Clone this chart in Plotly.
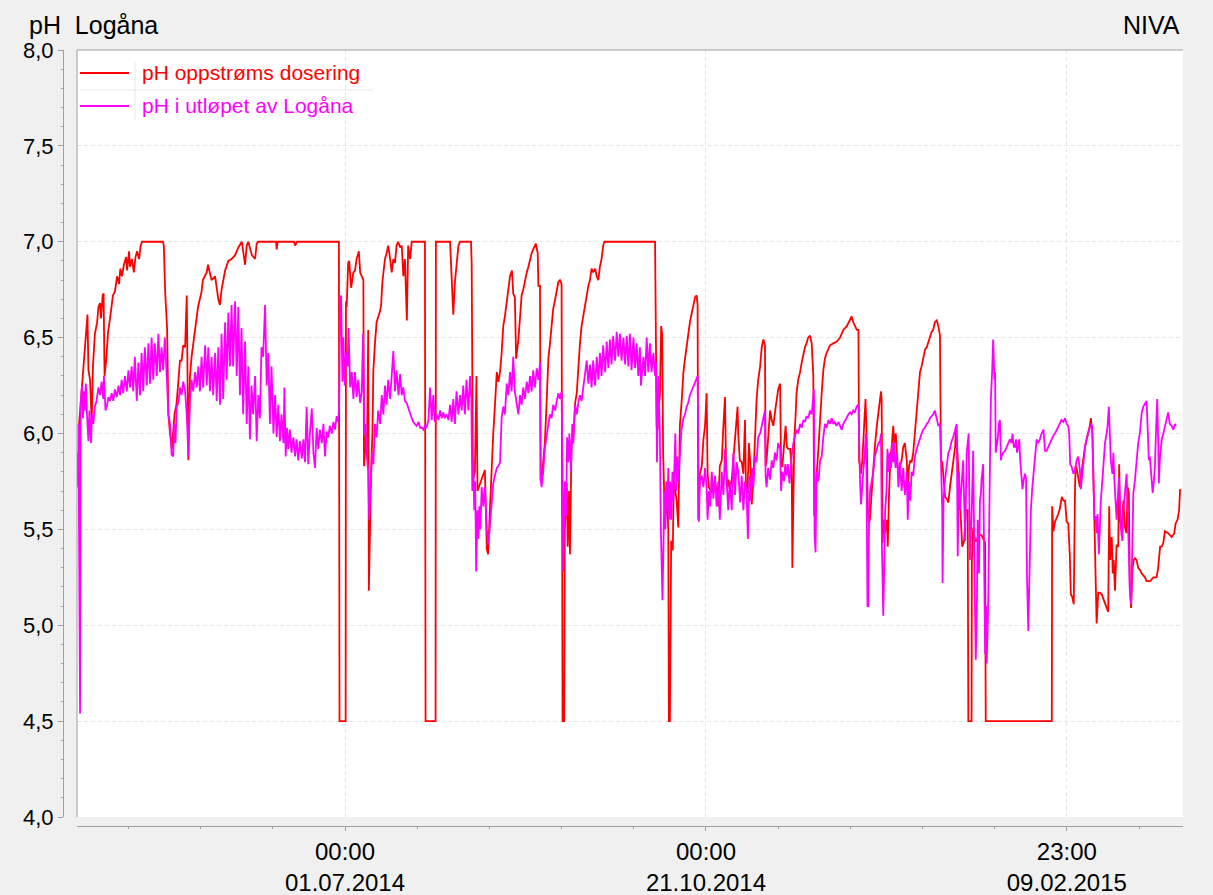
import numpy as np
import pandas as pd
import plotly.graph_objects as go

# pH readings: (days relative to 01.07.2014 00:00, pH)
red_readings = [
    (-83.0, 5.90), (-82.8, 5.72), (-82.5, 6.05), (-81.9, 6.18), (-81.3, 6.30), (-80.7, 6.42), (-79.9, 6.62),
    (-79.6, 6.33), (-79.1, 6.28), (-78.6, 6.06), (-78.2, 6.35), (-77.6, 6.52), (-76.9, 6.58), (-76.5, 6.66),
    (-76.0, 6.68), (-75.7, 6.60), (-75.2, 6.72), (-74.9, 6.73), (-74.6, 6.30), (-74.1, 6.38), (-73.5, 6.53),
    (-72.9, 6.60), (-72.4, 6.66), (-72.0, 6.72), (-71.4, 6.74), (-70.7, 6.82), (-70.1, 6.78), (-69.7, 6.86),
    (-69.2, 6.82), (-68.6, 6.88), (-67.9, 6.92), (-67.6, 6.85), (-67.0, 6.95), (-66.7, 6.87), (-66.1, 6.91),
    (-65.5, 6.84), (-65.0, 6.92), (-64.5, 6.95), (-63.9, 6.91), (-63.4, 6.98), (-63.0, 7.00),
    (-56.5, 7.00), (-56.2, 6.98), (-55.8, 6.74), (-55.2, 6.55), (-54.8, 6.10), (-54.3, 6.00), (-53.7, 5.92),
    (-52.9, 6.10), (-52.3, 6.15), (-51.8, 6.25), (-51.2, 6.38), (-50.7, 6.38), (-50.2, 6.46), (-49.6, 6.45),
    (-49.1, 6.72), (-48.6, 5.86), (-48.1, 6.30), (-47.6, 6.40), (-46.8, 6.50), (-46.5, 6.55), (-45.6, 6.66),
    (-44.5, 6.74), (-44.1, 6.80), (-42.9, 6.84), (-42.5, 6.88), (-41.4, 6.80), (-40.3, 6.82), (-39.3, 6.70),
    (-38.8, 6.67), (-38.3, 6.75), (-37.2, 6.85), (-36.2, 6.90), (-35.2, 6.91), (-34.1, 6.93), (-33.1, 6.97),
    (-32.0, 7.00), (-31.0, 6.88), (-30.5, 6.98), (-30.0, 7.00), (-28.9, 6.93), (-27.9, 6.91), (-27.4, 6.99),
    (-27.0, 7.00), (-21.4, 7.00), (-21.2, 6.96), (-20.9, 7.00), (-15.8, 7.00), (-15.5, 6.98), (-14.9, 7.00),
    (-1.9, 7.00), (-1.7, 4.50), (0.2, 4.50), (0.3, 6.69), (0.5, 6.66), (1.0, 6.89), (1.3, 6.90), (1.9, 6.76),
    (2.3, 6.80), (2.6, 6.84), (3.1, 6.85), (3.6, 6.91), (4.3, 6.95), (4.7, 6.84), (5.2, 6.82), (5.7, 6.80),
    (5.9, 5.83), (6.2, 5.90), (6.5, 6.00), (6.8, 5.87), (7.2, 6.54), (7.4, 5.18), (7.8, 5.60), (8.1, 5.80),
    (8.5, 6.00), (8.8, 6.33), (9.3, 6.47), (9.8, 6.58), (10.9, 6.64), (11.2, 6.67), (11.6, 6.79), (12.0, 6.87),
    (12.4, 6.91), (12.9, 6.94), (13.4, 6.98), (14.0, 6.91), (14.5, 6.84), (15.0, 6.91), (15.5, 6.89),
    (16.0, 6.98), (16.5, 7.00), (17.1, 6.97), (17.6, 6.98), (18.1, 6.82), (18.6, 6.91), (19.2, 6.59),
    (19.6, 6.98), (20.2, 6.91), (20.7, 7.00), (24.8, 7.00), (25.0, 4.50), (28.1, 4.50), (28.2, 7.00),
    (32.6, 7.00), (33.1, 6.82), (33.6, 6.62), (34.1, 6.79), (34.7, 6.91), (35.2, 6.98), (35.7, 7.00),
    (39.1, 7.00), (39.3, 6.89), (39.7, 5.76), (40.3, 5.80), (40.8, 6.30), (41.1, 5.70), (41.9, 5.74),
    (42.4, 5.77), (42.9, 5.79), (43.4, 5.81), (44.0, 5.40), (44.4, 5.37), (45.0, 5.62), (45.5, 5.86),
    (46.0, 6.00), (46.5, 6.14), (47.1, 6.32), (47.6, 6.27), (48.1, 6.32), (48.6, 6.42), (49.1, 6.56),
    (49.6, 6.61), (50.2, 6.70), (50.7, 6.77), (51.2, 6.82), (51.8, 6.85), (52.2, 6.73), (52.7, 6.71),
    (53.1, 6.39), (53.8, 6.49), (54.3, 6.63), (54.8, 6.72), (55.3, 6.75), (55.8, 6.80), (56.4, 6.84),
    (56.9, 6.87), (57.4, 6.91), (57.9, 6.94), (58.4, 6.96), (59.2, 6.99), (59.8, 6.94), (60.0, 6.77),
    (60.5, 6.77), (60.7, 5.76), (61.0, 5.76), (61.5, 5.87), (62.0, 5.95), (62.6, 6.18), (63.1, 6.39),
    (63.6, 6.47), (64.1, 6.58), (64.6, 6.65), (65.2, 6.70), (65.7, 6.75), (66.2, 6.79), (66.7, 6.80),
    (67.2, 6.78), (67.5, 4.50), (68.0, 4.50), (68.2, 5.50), (68.8, 5.74), (69.1, 5.41), (69.5, 5.70),
    (69.8, 5.37), (70.3, 5.97), (70.8, 5.95), (71.4, 6.16), (71.9, 6.21), (72.4, 6.35), (72.9, 6.47),
    (73.4, 6.56), (73.9, 6.61), (74.5, 6.66), (75.0, 6.73), (75.5, 6.77), (76.0, 6.80), (76.5, 6.86),
    (77.0, 6.84), (77.6, 6.86), (78.1, 6.82), (78.6, 6.80), (79.1, 6.87), (79.6, 6.91), (80.1, 6.98),
    (80.5, 7.00), (96.2, 7.00), (96.3, 6.73), (96.7, 6.04), (97.0, 6.02), (97.2, 6.11), (97.7, 6.20),
    (98.1, 6.56), (98.4, 6.52), (98.7, 5.90), (99.3, 5.52), (99.8, 5.72), (100.3, 5.50), (100.5, 4.50),
    (100.8, 4.50), (100.9, 4.72), (101.2, 5.44), (101.7, 5.39), (102.0, 5.76), (102.4, 5.71), (102.9, 5.65),
    (103.4, 5.51), (103.9, 6.04), (104.5, 6.18), (105.0, 6.32), (105.5, 6.39), (106.0, 6.45), (106.5, 6.53),
    (107.0, 6.58), (107.6, 6.63), (108.1, 6.68), (108.6, 6.71), (109.1, 6.72), (109.4, 6.67), (109.6, 5.55),
    (110.1, 5.79), (110.7, 5.83), (111.2, 5.97), (111.7, 6.04), (112.2, 6.21), (112.5, 5.79), (112.9, 5.72),
    (113.8, 5.69), (114.3, 5.72), (114.8, 5.76), (115.3, 5.69), (115.8, 5.62), (116.3, 5.83), (116.9, 5.86),
    (117.4, 6.04), (117.9, 6.19), (118.2, 5.86), (118.6, 5.72), (118.9, 5.76), (119.4, 5.71), (120.0, 5.76),
    (120.5, 5.86), (121.0, 5.97), (121.8, 6.14), (122.0, 6.00), (122.5, 5.86), (123.1, 5.85), (123.6, 5.79),
    (124.1, 6.07), (124.4, 5.72), (124.9, 5.69), (125.3, 5.95), (125.7, 5.86), (126.2, 5.63), (126.7, 5.76),
    (127.2, 6.00), (127.7, 6.18), (128.2, 6.28), (128.8, 6.35), (129.3, 6.45), (129.8, 6.49), (130.3, 6.46),
    (130.5, 5.83), (130.8, 5.86), (131.3, 5.97), (131.9, 6.12), (132.4, 6.07), (132.9, 6.04), (133.4, 6.11),
    (133.9, 6.18), (134.4, 6.23), (135.0, 6.26), (135.3, 5.83), (135.7, 5.83), (136.3, 5.97), (136.7, 6.04),
    (137.1, 5.93), (137.5, 5.92), (138.1, 5.92), (138.6, 5.83), (138.8, 5.30), (139.1, 5.62), (139.4, 5.97),
    (139.8, 6.09), (140.1, 6.21), (140.6, 6.28), (141.2, 6.32), (141.7, 6.37), (142.2, 6.42), (142.7, 6.45),
    (143.2, 6.47), (143.7, 6.50), (144.3, 6.51), (144.8, 6.47), (145.3, 6.30), (145.6, 5.57), (146.0, 5.59),
    (146.3, 5.78), (146.8, 5.90), (147.4, 6.04), (147.9, 6.21), (148.4, 6.33), (148.9, 6.39), (149.4, 6.42),
    (149.9, 6.44), (150.5, 6.46), (151.5, 6.47), (152.6, 6.48), (153.6, 6.50), (154.6, 6.54), (155.7, 6.56),
    (156.7, 6.60), (157.2, 6.61), (157.7, 6.58), (158.8, 6.54), (159.3, 6.54), (159.5, 5.86), (159.8, 5.83),
    (160.1, 5.79), (160.5, 5.86), (160.8, 5.97), (161.1, 6.11), (161.5, 6.18), (161.9, 5.95), (162.2, 5.60),
    (162.6, 5.53), (162.9, 5.56), (163.4, 5.69), (163.9, 5.83), (164.4, 5.93), (165.0, 6.04), (165.5, 6.11),
    (166.0, 6.21), (166.3, 6.22), (166.5, 6.18), (166.8, 5.43), (167.1, 5.55), (167.5, 5.48), (168.1, 5.55),
    (168.4, 5.41), (168.8, 5.69), (169.2, 5.86), (169.6, 5.93), (170.1, 6.04), (170.4, 5.95), (170.9, 6.00),
    (171.3, 5.86), (171.7, 5.79), (172.2, 5.83), (172.7, 5.86), (173.2, 5.93), (173.7, 5.95), (174.3, 5.86),
    (174.6, 5.72), (175.0, 5.83), (175.4, 5.86), (175.8, 5.85), (176.3, 5.90), (176.8, 6.00), (177.4, 6.11),
    (177.9, 6.21), (178.4, 6.32), (178.9, 6.35), (179.4, 6.40), (180.0, 6.44), (180.5, 6.45), (181.0, 6.48),
    (181.5, 6.51), (182.0, 6.53), (182.5, 6.54), (183.0, 6.58), (183.6, 6.59), (184.1, 6.56), (184.6, 6.51),
    (184.9, 5.86), (185.3, 5.85), (185.7, 5.78), (186.2, 5.67), (186.7, 5.66), (187.2, 5.64), (187.7, 5.72),
    (188.2, 5.79), (188.7, 5.86), (189.3, 5.93), (189.6, 6.04), (190.1, 5.86), (190.3, 5.83), (190.5, 5.76),
    (190.8, 5.62), (191.5, 5.41), (192.1, 5.44), (192.6, 5.60), (193.2, 5.60), (193.4, 4.50), (194.4, 4.50),
    (194.5, 5.34), (194.9, 5.51), (195.5, 5.44), (196.0, 5.44), (196.5, 5.47), (197.5, 5.47), (198.6, 5.43),
    (198.8, 4.50), (219.3, 4.50), (219.4, 5.62), (219.8, 5.49), (220.3, 5.54), (220.8, 5.56), (221.3, 5.58),
    (221.8, 5.61), (222.4, 5.67), (222.9, 5.65), (223.4, 5.65), (223.9, 5.54), (224.4, 5.53), (224.9, 5.36),
    (225.2, 5.16), (225.6, 5.15), (226.1, 5.11), (226.5, 5.72), (226.7, 5.83), (227.1, 5.81), (227.5, 5.76),
    (228.0, 5.72), (228.6, 5.81), (229.1, 5.88), (229.6, 5.93), (230.1, 5.97), (230.6, 6.00), (231.1, 6.04),
    (231.4, 6.08), (231.9, 6.00), (232.3, 5.71), (232.7, 5.34), (233.2, 5.01), (233.7, 5.17), (234.2, 5.17),
    (234.8, 5.16), (235.3, 5.14), (235.8, 5.11), (236.8, 5.07), (237.1, 5.62), (237.4, 5.34), (237.9, 5.46),
    (238.2, 5.27), (238.5, 5.34), (238.9, 5.18), (239.4, 5.42), (239.9, 5.41), (240.2, 5.84), (240.5, 5.55),
    (241.0, 5.51), (241.5, 5.65), (242.0, 5.51), (242.5, 5.48), (242.8, 5.72), (243.2, 5.69), (243.5, 5.20),
    (243.9, 5.09), (244.3, 5.29), (244.7, 5.34), (245.1, 5.35), (245.6, 5.34), (246.1, 5.30), (246.6, 5.29),
    (247.2, 5.27), (247.7, 5.26), (248.2, 5.25), (248.7, 5.23), (249.8, 5.23), (250.3, 5.24), (250.8, 5.25),
    (251.8, 5.25), (252.3, 5.30), (252.9, 5.41), (253.4, 5.41), (253.9, 5.43), (254.4, 5.49), (255.4, 5.48),
    (256.5, 5.46), (257.3, 5.48), (257.7, 5.53), (258.3, 5.55), (258.8, 5.60), (259.1, 5.71),
]

magenta_readings = [
    (-82.7, 6.05), (-82.2, 4.54), (-82.0, 6.16), (-81.6, 6.25), (-81.3, 6.08), (-81.0, 6.22), (-80.7, 6.12),
    (-80.4, 6.26), (-80.0, 6.08), (-79.6, 5.96), (-79.3, 6.12), (-79.0, 6.00), (-78.8, 5.95), (-78.5, 6.10),
    (-78.1, 6.05), (-77.6, 6.14), (-77.1, 6.17), (-76.5, 6.24), (-76.0, 6.20), (-75.5, 6.27), (-75.0, 6.18),
    (-74.8, 6.30), (-74.3, 6.12), (-73.8, 6.15), (-73.4, 6.19), (-72.9, 6.17), (-72.4, 6.21), (-71.9, 6.17),
    (-71.4, 6.23), (-70.8, 6.19), (-70.3, 6.25), (-69.8, 6.20), (-69.3, 6.28), (-68.8, 6.21), (-68.3, 6.30),
    (-67.7, 6.22), (-67.2, 6.33), (-66.7, 6.24), (-66.2, 6.35), (-65.7, 6.22), (-65.2, 6.40), (-64.6, 6.17),
    (-64.1, 6.37), (-63.6, 6.20), (-63.1, 6.42), (-62.6, 6.22), (-62.1, 6.45), (-61.5, 6.25), (-61.0, 6.47),
    (-60.5, 6.26), (-60.0, 6.50), (-59.5, 6.28), (-59.0, 6.47), (-58.4, 6.30), (-57.9, 6.52), (-57.4, 6.32),
    (-56.9, 6.45), (-56.4, 6.33), (-55.9, 6.50), (-55.3, 6.30), (-54.8, 6.10), (-54.3, 6.05), (-53.8, 5.89),
    (-53.3, 5.88), (-53.0, 6.05), (-52.6, 5.95), (-52.2, 6.14), (-51.7, 6.16), (-51.2, 6.24), (-50.7, 6.20),
    (-50.2, 6.27), (-49.6, 6.22), (-49.1, 6.10), (-48.6, 5.88), (-48.1, 6.18), (-47.6, 6.28), (-47.1, 6.22),
    (-46.5, 6.32), (-46.0, 6.24), (-45.5, 6.35), (-45.0, 6.22), (-44.5, 6.40), (-44.0, 6.24), (-43.4, 6.46),
    (-42.9, 6.25), (-42.4, 6.45), (-41.9, 6.22), (-41.4, 6.40), (-40.9, 6.20), (-40.3, 6.42), (-39.8, 6.17),
    (-39.3, 6.45), (-38.8, 6.15), (-38.3, 6.52), (-37.8, 6.18), (-37.2, 6.58), (-36.7, 6.28), (-36.2, 6.63),
    (-35.7, 6.35), (-35.2, 6.67), (-34.7, 6.35), (-34.1, 6.69), (-33.6, 6.30), (-33.1, 6.66), (-32.6, 6.20),
    (-32.1, 6.55), (-31.6, 6.10), (-31.0, 6.48), (-30.5, 6.05), (-30.0, 6.35), (-29.5, 5.97), (-29.0, 6.25),
    (-28.5, 6.10), (-27.9, 6.30), (-27.4, 5.96), (-26.9, 6.20), (-26.4, 6.08), (-25.9, 6.45), (-25.4, 6.40),
    (-24.8, 6.67), (-24.3, 6.25), (-23.8, 6.42), (-23.3, 6.05), (-22.8, 6.35), (-22.2, 6.00), (-21.7, 6.20),
    (-21.2, 5.98), (-20.7, 6.15), (-20.2, 5.96), (-19.7, 6.10), (-19.1, 5.95), (-18.8, 6.24), (-18.4, 5.88),
    (-18.0, 6.03), (-17.6, 5.92), (-17.1, 6.02), (-16.6, 5.90), (-16.0, 5.98), (-15.5, 5.88), (-15.0, 5.97),
    (-14.5, 5.86), (-14.0, 5.96), (-13.4, 5.87), (-12.9, 5.97), (-12.4, 5.85), (-11.9, 6.14), (-11.4, 5.84),
    (-10.9, 6.00), (-10.3, 6.13), (-9.8, 5.90), (-9.3, 5.82), (-8.8, 6.03), (-8.3, 5.92), (-7.8, 6.02),
    (-7.2, 5.95), (-6.7, 6.05), (-6.2, 5.88), (-5.7, 6.01), (-5.2, 5.98), (-4.7, 6.04), (-4.1, 6.00),
    (-3.6, 6.06), (-3.1, 6.02), (-2.6, 6.09), (-2.1, 6.06), (-1.8, 6.15), (-1.5, 6.69), (-1.2, 6.72),
    (-0.8, 6.27), (-0.5, 6.50), (-0.1, 6.25), (0.3, 6.42), (0.8, 6.35), (1.1, 6.55), (1.6, 6.24), (2.1, 6.32),
    (2.6, 6.18), (3.1, 6.32), (3.6, 6.19), (4.1, 6.28), (4.7, 6.16), (5.2, 6.22), (5.6, 6.52), (6.0, 6.00),
    (6.4, 6.05), (6.7, 5.90), (7.2, 5.80), (7.5, 5.55), (7.9, 5.72), (8.4, 5.90), (8.8, 5.84), (9.3, 6.05),
    (9.8, 5.98), (10.3, 6.12), (10.9, 6.05), (11.4, 6.20), (11.9, 6.10), (12.4, 6.25), (12.9, 6.15),
    (13.4, 6.28), (14.0, 6.18), (14.5, 6.32), (15.0, 6.43), (15.5, 6.22), (16.0, 6.33), (16.6, 6.20),
    (17.1, 6.31), (17.6, 6.20), (18.1, 6.24), (18.6, 6.17), (19.1, 6.16), (19.7, 6.13), (20.2, 6.10),
    (20.7, 6.08), (21.2, 6.06), (21.7, 6.05), (22.2, 6.04), (22.8, 6.06), (23.3, 6.03), (23.8, 6.03),
    (24.3, 6.02), (24.8, 6.04), (25.3, 6.03), (25.9, 6.07), (26.4, 6.24), (26.9, 6.07), (27.4, 6.20),
    (27.9, 6.06), (28.4, 6.10), (29.0, 6.07), (29.5, 6.12), (30.0, 6.08), (30.5, 6.11), (31.0, 6.08),
    (31.5, 6.10), (32.1, 6.07), (32.6, 6.15), (33.1, 6.06), (33.6, 6.18), (34.1, 6.05), (34.6, 6.22),
    (35.2, 6.10), (35.7, 6.20), (36.2, 6.12), (36.7, 6.25), (37.2, 6.10), (37.7, 6.28), (38.3, 6.12),
    (38.8, 6.30), (39.2, 6.18), (39.5, 5.70), (39.8, 5.85), (40.1, 5.60), (40.4, 5.75), (40.7, 5.28),
    (41.1, 5.60), (41.4, 5.45), (41.7, 5.62), (42.0, 5.50), (42.4, 5.72), (42.9, 5.62), (43.4, 5.72),
    (44.0, 5.50), (44.5, 5.42), (45.0, 5.52), (45.5, 5.62), (46.0, 5.74), (46.5, 5.78), (47.1, 5.82),
    (47.6, 5.83), (48.1, 5.85), (48.6, 6.08), (49.1, 6.14), (49.6, 6.10), (50.2, 6.26), (50.7, 6.20),
    (51.2, 6.32), (51.7, 6.22), (52.2, 6.40), (52.7, 6.22), (53.4, 6.14), (53.8, 6.10), (54.3, 6.20),
    (54.8, 6.15), (55.3, 6.24), (55.8, 6.18), (56.4, 6.27), (56.9, 6.21), (57.4, 6.30), (57.9, 6.22),
    (58.4, 6.33), (58.9, 6.24), (59.5, 6.34), (60.0, 6.28), (60.5, 6.37), (60.7, 5.76), (61.0, 5.72),
    (61.5, 5.80), (62.0, 5.92), (62.6, 6.00), (63.1, 6.05), (63.6, 6.10), (64.1, 6.08), (64.6, 6.15),
    (65.2, 6.12), (65.7, 6.17), (66.2, 6.21), (66.7, 6.18), (67.2, 6.22), (67.5, 5.80), (67.7, 5.28),
    (68.2, 5.75), (68.6, 5.57), (68.9, 5.98), (69.3, 5.85), (69.6, 6.00), (70.1, 5.80), (70.5, 6.05),
    (70.8, 5.95), (71.4, 6.15), (71.9, 6.10), (72.4, 6.16), (72.9, 6.20), (73.4, 6.17), (73.9, 6.24),
    (74.5, 6.30), (75.0, 6.38), (75.5, 6.26), (76.0, 6.36), (76.5, 6.24), (77.0, 6.38), (77.6, 6.25),
    (78.1, 6.40), (78.6, 6.28), (79.1, 6.42), (79.6, 6.30), (80.1, 6.46), (80.7, 6.32), (81.2, 6.48),
    (81.7, 6.34), (82.2, 6.49), (82.7, 6.36), (83.2, 6.51), (83.8, 6.38), (84.3, 6.53), (84.8, 6.40),
    (85.3, 6.52), (85.8, 6.38), (86.4, 6.50), (86.9, 6.36), (87.4, 6.51), (87.9, 6.35), (88.4, 6.52),
    (88.9, 6.33), (89.5, 6.50), (90.0, 6.34), (90.5, 6.47), (91.0, 6.30), (91.5, 6.45), (91.8, 6.25),
    (92.6, 6.40), (93.1, 6.30), (93.6, 6.50), (94.1, 6.32), (94.6, 6.47), (95.1, 6.32), (95.7, 6.42),
    (96.2, 6.30), (96.5, 6.37), (96.8, 5.85), (97.0, 6.04), (97.2, 6.30), (97.7, 6.00), (98.0, 5.50),
    (98.5, 5.13), (98.8, 5.40), (99.1, 5.70), (99.4, 5.50), (99.7, 5.75), (100.0, 5.60), (100.3, 5.82),
    (100.6, 5.55), (100.9, 5.75), (101.2, 5.55), (101.6, 5.80), (101.9, 5.65), (102.2, 5.90), (102.5, 6.00),
    (102.8, 5.70), (103.1, 5.88), (103.4, 5.75), (103.9, 5.90), (104.4, 6.02), (105.0, 6.08), (105.5, 6.10),
    (106.0, 6.14), (106.5, 6.16), (107.0, 6.20), (107.5, 6.22), (108.1, 6.24), (108.6, 6.26), (109.1, 6.28),
    (109.4, 6.30), (109.6, 6.00), (109.8, 5.54), (110.1, 5.75), (110.7, 5.78), (111.2, 5.72), (111.7, 5.82),
    (112.2, 5.72), (112.5, 5.55), (112.9, 5.70), (113.3, 5.62), (113.8, 5.80), (114.3, 5.66), (114.8, 5.78),
    (115.3, 5.62), (115.8, 5.75), (116.3, 5.55), (116.9, 5.80), (117.4, 5.68), (117.9, 5.92), (118.4, 5.72),
    (118.9, 5.60), (119.4, 5.75), (120.0, 5.60), (120.5, 5.90), (121.0, 5.68), (121.5, 5.85), (122.0, 5.80),
    (122.6, 5.64), (123.1, 5.78), (123.6, 5.60), (124.1, 5.75), (124.6, 5.70), (125.0, 5.45), (125.5, 5.78),
    (125.9, 5.65), (126.3, 5.82), (126.7, 5.72), (127.2, 5.88), (127.7, 5.85), (128.2, 5.98), (128.8, 6.00),
    (129.3, 6.04), (129.8, 6.08), (130.3, 6.12), (130.5, 5.78), (130.8, 5.72), (131.3, 5.82), (131.9, 5.76),
    (132.4, 5.86), (132.9, 5.82), (133.4, 5.90), (133.9, 5.86), (134.4, 5.95), (135.0, 5.92), (135.3, 5.70),
    (135.7, 5.80), (136.2, 5.75), (136.6, 5.84), (137.0, 5.78), (137.4, 5.84), (137.9, 5.74), (138.3, 5.84),
    (138.7, 5.90), (139.1, 5.95), (139.6, 5.98), (140.1, 6.02), (140.6, 6.00), (141.2, 6.05), (141.7, 6.03),
    (142.2, 6.07), (142.7, 6.06), (143.2, 6.09), (143.7, 6.08), (144.3, 6.12), (144.8, 6.10), (145.3, 6.17),
    (145.5, 6.23), (145.7, 5.47), (146.0, 5.38), (146.3, 5.80), (146.9, 5.75), (147.4, 5.86), (147.9, 5.88),
    (148.4, 5.98), (148.9, 6.05), (149.4, 6.03), (150.0, 6.07), (150.5, 6.05), (151.0, 6.08), (151.5, 6.05),
    (152.0, 6.06), (152.5, 6.04), (153.1, 6.06), (153.6, 6.04), (154.1, 6.02), (154.6, 6.05), (155.1, 6.07),
    (155.6, 6.08), (156.2, 6.10), (156.7, 6.11), (157.2, 6.10), (157.7, 6.12), (158.2, 6.11), (158.7, 6.14),
    (159.3, 6.15), (159.5, 5.95), (159.8, 5.75), (160.1, 5.63), (160.4, 5.72), (160.8, 5.80), (161.2, 5.88),
    (161.6, 6.00), (161.8, 5.80), (162.1, 5.10), (162.4, 5.10), (162.6, 5.60), (162.9, 5.70), (163.4, 5.75),
    (163.9, 5.80), (164.4, 5.88), (165.0, 5.92), (165.5, 5.95), (166.0, 5.96), (166.3, 6.00), (166.6, 5.40),
    (167.0, 5.05), (167.3, 5.30), (167.6, 5.60), (168.0, 5.70), (168.3, 5.92), (168.6, 5.80), (169.0, 5.90),
    (169.4, 5.82), (169.8, 5.95), (170.1, 5.85), (170.4, 5.95), (170.8, 5.82), (171.3, 5.90), (171.7, 5.72),
    (172.2, 5.85), (172.7, 5.70), (173.2, 5.82), (173.7, 5.68), (174.3, 5.80), (174.6, 5.55), (175.0, 5.75),
    (175.4, 5.65), (175.8, 5.80), (176.3, 5.78), (176.8, 5.88), (177.4, 5.92), (177.9, 5.95), (178.4, 5.98),
    (178.9, 6.00), (179.4, 6.02), (179.9, 6.03), (180.5, 6.05), (181.0, 6.06), (181.5, 6.08), (182.0, 6.09),
    (182.5, 6.10), (183.0, 6.12), (183.4, 6.09), (184.1, 6.04), (184.6, 6.05), (184.9, 5.78), (185.3, 5.60),
    (185.4, 5.22), (185.7, 5.65), (186.1, 5.75), (186.7, 5.85), (187.2, 5.90), (187.7, 5.92), (188.2, 5.96),
    (188.7, 5.98), (189.2, 6.02), (189.8, 6.05), (190.1, 5.36), (190.5, 5.80), (190.8, 5.60), (191.3, 5.74),
    (191.8, 5.86), (192.4, 5.44), (192.9, 5.90), (193.5, 6.00), (193.9, 5.34), (194.4, 5.57), (194.9, 5.91),
    (195.3, 5.29), (195.7, 4.82), (196.0, 5.02), (196.3, 5.55), (196.7, 5.27), (197.0, 5.65), (197.3, 5.69),
    (197.5, 5.76), (198.0, 5.84), (198.4, 5.34), (198.6, 4.85), (198.9, 5.10), (199.1, 4.80), (199.4, 5.00),
    (199.6, 5.16), (200.1, 5.84), (200.4, 6.18), (200.8, 6.33), (201.1, 6.49), (201.5, 6.28), (201.7, 6.32),
    (201.9, 5.90), (202.2, 5.93), (202.5, 5.97), (202.9, 6.05), (203.2, 6.07), (203.5, 5.86), (203.7, 5.88),
    (204.2, 5.90), (204.8, 5.91), (205.3, 5.93), (205.8, 5.95), (206.3, 5.97), (206.8, 5.95), (207.1, 6.00),
    (207.5, 5.93), (207.9, 5.93), (208.2, 5.97), (208.5, 5.90), (208.9, 5.93), (209.2, 5.97), (209.5, 5.86),
    (209.9, 5.77), (210.2, 5.71), (210.6, 5.76), (211.0, 5.79), (211.3, 5.76), (211.6, 5.25), (212.0, 4.97),
    (212.4, 5.25), (212.8, 5.60), (213.2, 5.71), (213.7, 5.81), (214.1, 5.90), (214.6, 5.97), (215.1, 5.95),
    (215.6, 5.97), (216.1, 6.00), (216.7, 6.02), (217.2, 5.91), (217.7, 5.91), (218.2, 5.93), (218.7, 5.95),
    (219.2, 5.97), (219.8, 5.99), (220.3, 6.00), (220.8, 6.02), (221.3, 6.04), (221.8, 6.05), (222.3, 6.07),
    (222.9, 6.06), (223.4, 6.08), (223.9, 6.05), (224.4, 6.04), (224.7, 6.00), (225.0, 5.84), (225.4, 5.83),
    (226.0, 5.79), (226.5, 5.81), (227.0, 5.86), (227.5, 5.88), (228.0, 5.81), (228.3, 5.71), (228.8, 5.79),
    (229.1, 5.86), (229.6, 5.93), (230.1, 5.97), (230.6, 6.00), (231.1, 6.04), (231.4, 6.05), (231.8, 6.04),
    (232.2, 5.69), (232.5, 5.55), (232.9, 5.57), (233.2, 5.48), (233.5, 5.58), (233.9, 5.37), (234.2, 5.51),
    (234.5, 5.65), (235.0, 5.76), (235.4, 5.86), (235.8, 5.95), (236.3, 6.00), (236.6, 6.04), (237.0, 6.14),
    (237.3, 6.02), (237.6, 5.86), (238.1, 5.79), (238.4, 5.90), (238.7, 5.76), (239.1, 5.65), (239.4, 5.55),
    (239.7, 5.64), (240.1, 5.77), (240.4, 5.65), (240.7, 5.51), (241.2, 5.44), (241.5, 5.60), (242.0, 5.69),
    (242.5, 5.79), (242.8, 5.64), (243.2, 5.34), (243.5, 5.18), (243.9, 5.11), (244.3, 5.51), (244.6, 5.69),
    (245.1, 5.76), (245.6, 5.86), (246.1, 5.95), (246.6, 6.00), (247.2, 6.11), (247.7, 6.14), (248.2, 6.16),
    (248.7, 6.17), (249.0, 6.04), (249.4, 5.86), (249.7, 5.88), (250.3, 5.72), (250.6, 5.69), (250.9, 5.74),
    (251.3, 5.83), (251.6, 6.00), (252.0, 6.18), (252.3, 5.97), (252.5, 5.74), (252.8, 5.86), (253.4, 5.97),
    (253.9, 6.00), (254.4, 6.04), (254.9, 6.07), (255.4, 6.11), (255.9, 6.05), (256.5, 6.04), (257.0, 6.02),
    (257.5, 6.05), (257.8, 6.04),
]

series_names = ["pH oppstrøms dosering", "pH i utløpet av Logåna"]
series_colors = ["#ff0000", "#ff00ff"]
x_tick_times = ["2014-07-01 00:00", "2014-10-21 00:00", "2015-02-09 23:00"]
x_tick_labels = ["00:00<br>01.07.2014", "00:00<br>21.10.2014", "23:00<br>09.02.2015"]

T0 = pd.Timestamp("2014-07-01 00:00")


def to_time(days):
    return T0 + pd.to_timedelta(np.asarray(days, dtype=float), unit="D")


W, H = 1213, 895


def fx(px):
    return px / W


def fy(py):
    return 1 - py / H


FONT = "Liberation Sans, Arial, sans-serif"
AXIS_GREY = "#a0a0a0"

fig = go.Figure()
for readings, name, color in zip([red_readings, magenta_readings], series_names, series_colors):
    days, ph = zip(*readings)
    fig.add_trace(go.Scatter(
        x=to_time(days), y=list(ph), mode="lines", name=name,
        line=dict(color=color, width=1.8), showlegend=False, hoverinfo="skip",
    ))

shapes = [
    # sunken frame of the plot area
    dict(type="line", xref="paper", yref="paper", x0=fx(77), x1=fx(1183), y0=fy(50), y1=fy(50),
         line=dict(color=AXIS_GREY, width=1)),
    dict(type="line", xref="paper", yref="paper", x0=fx(77), x1=fx(77), y0=fy(50), y1=fy(817),
         line=dict(color=AXIS_GREY, width=1)),
    # legend table rules
    dict(type="line", xref="paper", yref="paper", x0=fx(135), x1=fx(135), y0=fy(61), y1=fy(120),
         line=dict(color="#e8e8e8", width=1)),
    dict(type="line", xref="paper", yref="paper", x0=fx(80), x1=fx(373), y0=fy(90), y1=fy(90),
         line=dict(color="#e8e8e8", width=1)),
]
annotations = [
    dict(text="pH  Logåna", xref="paper", yref="paper", x=fx(27), y=fy(25), xanchor="left",
         yanchor="middle", showarrow=False, font=dict(family=FONT, size=25, color="black")),
    dict(text="NIVA", xref="paper", yref="paper", x=fx(1182), y=fy(25), xanchor="right",
         yanchor="middle", showarrow=False, font=dict(family=FONT, size=25, color="black")),
]
for i, (name, color) in enumerate(zip(series_names, series_colors)):
    yy = 73 + 33 * i
    shapes.append(dict(type="line", xref="paper", yref="paper", x0=fx(80), x1=fx(129),
                       y0=fy(yy), y1=fy(yy), line=dict(color=color, width=1.8)))
    annotations.append(dict(text=name, xref="paper", yref="paper", x=fx(140), y=fy(yy),
                            xanchor="left", yanchor="middle", showarrow=False,
                            font=dict(family=FONT, size=21, color=color)))

fig.update_layout(
    width=W, height=H,
    margin=dict(l=0, r=0, t=0, b=0),
    paper_bgcolor="#f0f0f0", plot_bgcolor="white",
    separators=",.",
    showlegend=False,
    shapes=shapes, annotations=annotations,
    xaxis=dict(
        domain=[fx(77), fx(1183)], anchor="free", position=fy(826),
        type="date", range=["2014-04-08 20:24", "2015-03-18 00:00"],
        tickmode="array", tickvals=x_tick_times, ticktext=x_tick_labels,
        ticks="outside", ticklen=4, tickcolor=AXIS_GREY, tickwidth=1,
        showline=True, linecolor=AXIS_GREY, linewidth=1,
        showgrid=True, gridcolor="#e6e6e6", griddash="4px,3px", gridwidth=1,
        zeroline=False, automargin=False,
        tickfont=dict(family=FONT, size=24, color="black"),
        minor=dict(tickmode="linear", tick0="2014-07-01", dtick=22.4 * 86400000,
                   ticks="outside", ticklen=2, tickcolor=AXIS_GREY, showgrid=False),
    ),
    yaxis=dict(
        domain=[fy(817), fy(50)], anchor="free", position=fx(63),
        range=[4, 8], tickmode="linear", tick0=4, dtick=0.5, tickformat=".1f",
        ticks="outside", ticklen=5, tickcolor=AXIS_GREY, tickwidth=1,
        showline=True, linecolor=AXIS_GREY, linewidth=1,
        showgrid=True, gridcolor="#e6e6e6", griddash="4px,3px", gridwidth=1,
        zeroline=False, automargin=False,
        tickfont=dict(family=FONT, size=22, color="black"),
        minor=dict(dtick=0.1, ticks="outside", ticklen=2, tickcolor=AXIS_GREY, showgrid=False),
    ),
)

fig.write_html("out.html", config={"displayModeBar": False})
